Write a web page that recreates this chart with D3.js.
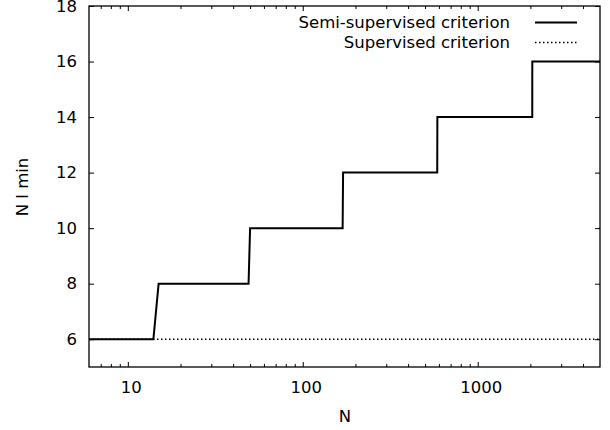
<html>
<head>
<script src="https://d3js.org/d3.v7.min.js"></script>
<style>
body { margin: 0; background: #fff; }
svg text { font-family: "DejaVu Sans", sans-serif; font-size: 16.5px; fill: #000; }
.axis path.domain { display: none; }
.axis line { stroke: #000; stroke-width: 1; }
</style>
</head>
<body>
<svg id="chart" width="610" height="430"></svg>
<script>
// step values of the semi-supervised criterion (N, N l min)
var semiN = [6, 14, 15, 49, 50, 169, 170, 587, 588, 2050, 2051, 5000];
var semiL = [6, 6, 8, 8, 10, 10, 12, 12, 14, 14, 16, 16];
// supervised criterion is flat
var supN = [6, 5000];
var supL = [6, 6];

var xMajor = [10, 100, 1000];
var xMinor = [7, 8, 9, 20, 30, 40, 50, 60, 70, 80, 90, 200, 300, 400, 500, 600, 700, 800, 900, 2000, 3000, 4000];
var yMajor = [6, 8, 10, 12, 14, 16, 18];

var legendNames = ["Semi-supervised criterion", "Supervised criterion"];

// plot box (note: "top" is taken by window.top)
var pLeft = 89, pRight = 600, pTop = 6, pBottom = 367;

var svg = d3.select("#chart");

var xScale = d3.scaleLog().domain([6, 5000]).range([pLeft, pRight]);
var yScale = d3.scaleLinear().domain([5, 18]).range([pBottom, pTop]);

// bottom axis with labels
svg.append("g").attr("class", "axis")
  .attr("transform", "translate(0," + pBottom + ")")
  .call(d3.axisBottom(xScale).tickValues(xMajor).tickFormat(d3.format("d"))
    .tickSizeInner(-5).tickSizeOuter(0).tickPadding(14.5))
  .selectAll("text").attr("dx", 3);
svg.append("g").attr("class", "axis")
  .attr("transform", "translate(0," + pBottom + ")")
  .call(d3.axisBottom(xScale).tickValues(xMinor).tickFormat("").tickSizeInner(-3).tickSizeOuter(0));
// top mirror
svg.append("g").attr("class", "axis")
  .attr("transform", "translate(0," + pTop + ")")
  .call(d3.axisTop(xScale).tickValues(xMajor).tickFormat("").tickSizeInner(-5).tickSizeOuter(0));
svg.append("g").attr("class", "axis")
  .attr("transform", "translate(0," + pTop + ")")
  .call(d3.axisTop(xScale).tickValues(xMinor).tickFormat("").tickSizeInner(-3).tickSizeOuter(0));

// left axis with labels, right mirror
svg.append("g").attr("class", "axis")
  .attr("transform", "translate(" + pLeft + ",0)")
  .call(d3.axisLeft(yScale).tickValues(yMajor).tickSizeInner(-5).tickSizeOuter(0).tickPadding(12));
svg.append("g").attr("class", "axis")
  .attr("transform", "translate(" + pRight + ",0)")
  .call(d3.axisRight(yScale).tickValues(yMajor).tickFormat("").tickSizeInner(-5).tickSizeOuter(0));

// lines
var line = d3.line().x(function(d){ return xScale(d[0]); }).y(function(d){ return yScale(d[1]); });

svg.append("path")
  .attr("d", line(supN.map(function(n, i){ return [n, supL[i]]; })))
  .attr("fill", "none").attr("stroke", "#000").attr("stroke-width", 1.5)
  .attr("stroke-dasharray", "1.5,2.5");

svg.append("path")
  .attr("d", line(semiN.map(function(n, i){ return [n, semiL[i]]; })))
  .attr("fill", "none").attr("stroke", "#000").attr("stroke-width", 2);

// frame
svg.append("rect")
  .attr("x", pLeft).attr("y", pTop)
  .attr("width", pRight - pLeft).attr("height", pBottom - pTop)
  .attr("fill", "none").attr("stroke", "#000").attr("stroke-width", 1.3);

// legend
var leg = svg.append("g");
legendNames.forEach(function(name, i){
  var yy = 28 + i * 20;
  leg.append("text").attr("x", 510).attr("y", yy).attr("text-anchor", "end").text(name);
  leg.append("line")
    .attr("x1", 535).attr("x2", 577).attr("y1", yy - 5.5).attr("y2", yy - 5.5)
    .attr("stroke", "#000")
    .attr("stroke-width", i == 0 ? 2 : 1.5)
    .attr("stroke-dasharray", i == 0 ? null : "1.5,2.5");
});

// axis titles
svg.append("text").attr("x", 345).attr("y", 422).attr("text-anchor", "middle").text("N");
svg.append("text").attr("transform", "translate(28,187) rotate(-90)")
  .attr("text-anchor", "middle").text("N l min");
</script>
</body>
</html>
